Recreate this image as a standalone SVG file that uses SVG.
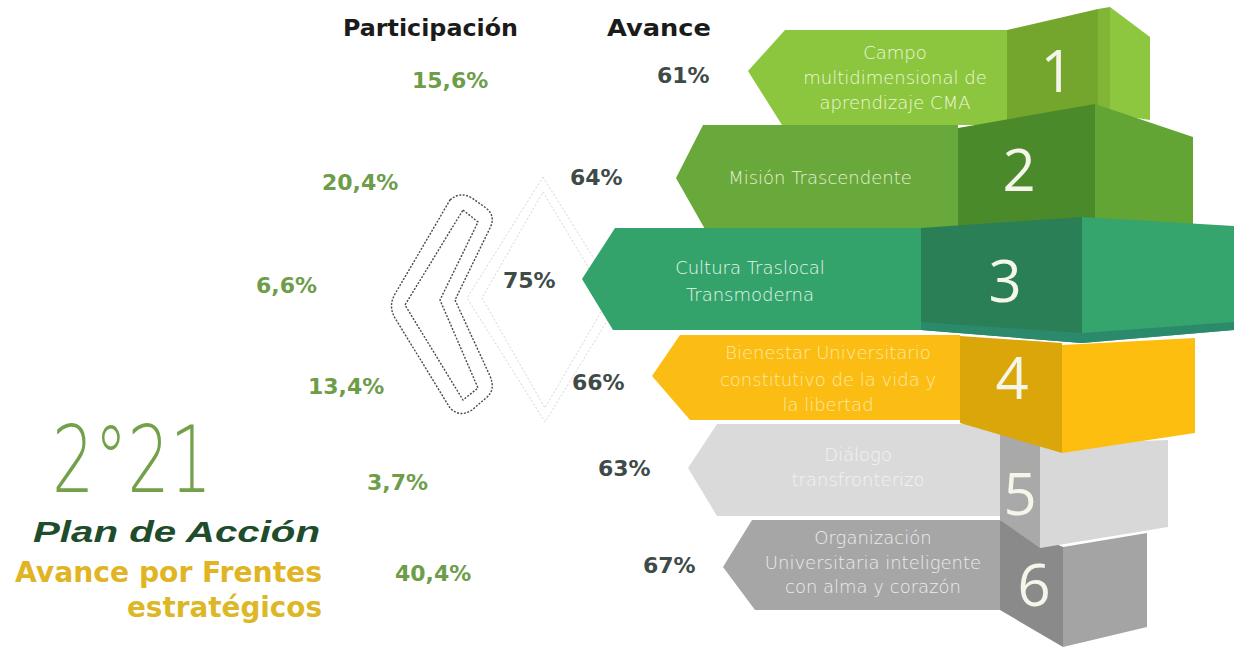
<svg xmlns="http://www.w3.org/2000/svg" width="1234" height="648" viewBox="0 0 1234 648">
<style>
.hdr{font-family:"DejaVu Sans","Liberation Sans",sans-serif;font-weight:bold;font-size:23px;fill:#1b1b1b}
.pp{font-family:"DejaVu Sans","Liberation Sans",sans-serif;font-weight:bold;font-size:22px;fill:#6e9d4a}
.av{font-family:"DejaVu Sans","Liberation Sans",sans-serif;font-weight:bold;font-size:22px;fill:#3f4b48}
.bt{font-family:"DejaVu Sans","Liberation Sans",sans-serif;font-weight:200;font-size:18px;text-anchor:middle}
.num{font-family:"Open Sans","DejaVu Sans",sans-serif;font-weight:400;font-size:58px;text-anchor:middle;fill:#f4f6ea}
.dot{fill:none;stroke:#4a4a4a;stroke-width:1.4;stroke-dasharray:2 1.5}
.faint{fill:none;stroke:#d6d6d6;stroke-width:1;stroke-dasharray:2 2}
</style>

<g id="headers">
<text class="hdr" x="343" y="36" textLength="175" lengthAdjust="spacingAndGlyphs">Participación</text>
<text class="hdr" x="607" y="36" textLength="104" lengthAdjust="spacingAndGlyphs">Avance</text>
</g>

<g id="decor">
<path class="faint" d="M543,177 L620,300 L545,422 L467,298 Z"/>
<path class="faint" d="M543,192 L608,300 L545,408 L482,298 Z"/>
<path class="dot" d="M450,200 Q460,191 472,198 L486,208 Q496,216 490,228 L455,300 L490,376 Q496,390 486,398 L472,410 Q460,418 450,408 L395,318 Q388,306 395,294 Z"/>
<path class="dot" d="M463,210 L478,222 L440,300 L478,388 L463,400 L405,305 Z"/>
</g>

<g id="participacion">
<text class="pp" x="412" y="88">15,6%</text>
<text class="pp" x="322" y="190">20,4%</text>
<text class="pp" x="256" y="293">6,6%</text>
<text class="pp" x="308" y="394">13,4%</text>
<text class="pp" x="367" y="490">3,7%</text>
<text class="pp" x="395" y="581">40,4%</text>
</g>

<g id="avance">
<text class="av" x="657" y="83">61%</text>
<text class="av" x="570" y="185">64%</text>
<text class="av" x="503" y="288">75%</text>
<text class="av" x="572" y="390">66%</text>
<text class="av" x="598" y="476">63%</text>
<text class="av" x="643" y="573">67%</text>
</g>

<g id="title">
<text x="52" y="492" font-family="DejaVu Sans, sans-serif" font-weight="200" font-size="92" fill="#72a14a" textLength="160" lengthAdjust="spacingAndGlyphs">2°21</text>
<text x="33" y="542" font-family="Liberation Sans, Arial, sans-serif" font-weight="bold" font-style="italic" font-size="30" fill="#1f4d2b" textLength="287" lengthAdjust="spacingAndGlyphs">Plan de Acción</text>
<text x="15" y="582" font-family="DejaVu Sans, sans-serif" font-weight="bold" font-size="28" fill="#e0b423" textLength="307" lengthAdjust="spacingAndGlyphs">Avance por Frentes</text>
<text x="322" y="617" text-anchor="end" font-family="DejaVu Sans, sans-serif" font-weight="bold" font-size="28" fill="#dcb827" textLength="195" lengthAdjust="spacingAndGlyphs">estratégicos</text>
</g>

<g id="block1">
<polygon points="748,71 785,30 1007,30 1007,125 782,125" fill="#8cc63f"/>
<polygon points="1007,30 1098,9 1098,112 1007,125" fill="#74a52c"/>
<polygon points="1098,9 1110,7 1110,114 1098,112" fill="#80b535"/>
<polygon points="1110,7 1150,37 1150,120 1110,114" fill="#8dc63f"/>
<text class="bt" fill="#eef6da" x="895" y="59">Campo</text>
<text class="bt" fill="#eef6da" x="895" y="84">multidimensional de</text>
<text class="bt" fill="#eef6da" x="895" y="109">aprendizaje CMA</text>
<text class="num" x="1057" y="92">1</text>
</g>

<g id="block2">
<polygon points="676,178 703,125 958,125 958,231 706,231" fill="#69a83a"/>
<polygon points="958,128 1095,104 1095,230 958,232" fill="#4b8a2b"/>
<polygon points="1095,104 1193,137 1193,224 1095,230" fill="#62a535"/>
<text class="bt" fill="#e6f0d8" x="820" y="184">Misión Trascendente</text>
<text class="num" x="1019" y="191">2</text>
</g>

<g id="block6">
<polygon points="723,567 752,520 1000,520 1000,610 755,610" fill="#a6a6a6"/>
<polygon points="1000,520 1063,547 1063,647 1000,610" fill="#8a8a8a"/>
<polygon points="1063,547 1147,533 1147,627 1063,647" fill="#a4a4a4"/>
<text class="bt" fill="#ececec" x="873" y="544">Organización</text>
<text class="bt" fill="#ececec" x="873" y="569">Universitaria inteligente</text>
<text class="bt" fill="#ececec" x="873" y="593">con alma y corazón</text>
<text class="num" x="1034" y="606">6</text>
</g>

<g id="block5">
<polygon points="688,468 717,424 1000,424 1000,516 717,516" fill="#dadada"/>
<polygon points="1000,424 1040,440 1040,548 1000,520" fill="#a9a9a9"/>
<polygon points="1040,445 1168,440 1168,527 1040,548" fill="#d8d8d8"/>
<text class="bt" fill="#f3f3f3" x="858" y="461">Diálogo</text>
<text class="bt" fill="#f3f3f3" x="858" y="486">transfronterizo</text>
<text class="num" x="1020" y="515">5</text>
</g>

<g id="block4">
<polygon points="652,376 680,335 960,335 960,420 690,420" fill="#fbbd13"/>
<polygon points="960,336 1062,343 1062,453 960,423" fill="#dba60a"/>
<polygon points="1062,345 1195,338 1195,433 1062,453" fill="#fdbe0f"/>
<text class="bt" fill="#fde9a6" x="828" y="359">Bienestar Universitario</text>
<text class="bt" fill="#fde9a6" x="828" y="386">constitutivo de la vida y</text>
<text class="bt" fill="#fde9a6" x="828" y="411">la libertad</text>
<text class="num" x="1012" y="399">4</text>
</g>

<g id="block3">
<polygon points="582,279 615,228 921,228 921,330 613,330" fill="#33a36b"/>
<polygon points="921,228 1082,217 1082,343 921,330" fill="#2a7f56"/>
<polygon points="1082,217 1234,226 1234,330 1082,343" fill="#36a46d"/>
<polygon points="921,322 1082,333 1234,322 1234,330 1082,343 921,330" fill="#2b8a6c"/>
<text class="bt" fill="#e6f5ec" x="750" y="274">Cultura Traslocal</text>
<text class="bt" fill="#e6f5ec" x="750" y="301">Transmoderna</text>
<text class="num" x="1005" y="302">3</text>
</g>

<g id="connectors"/>
</svg>
